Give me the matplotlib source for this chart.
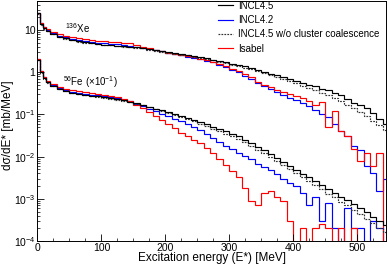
import matplotlib
matplotlib.use("Agg")
import math
import matplotlib.pyplot as plt
from matplotlib.lines import Line2D
from matplotlib.ticker import MultipleLocator, LogLocator, FuncFormatter, NullFormatter

plt.rcParams['font.family'] = ['Liberation Sans', 'DejaVu Sans']
plt.rcParams['mathtext.fontset'] = 'custom'
plt.rcParams['mathtext.rm'] = 'Liberation Sans'
plt.rcParams['mathtext.it'] = 'Liberation Sans:italic'
plt.rcParams['mathtext.bf'] = 'Liberation Sans:bold'

# bin edges [MeV]
edges = [0, 4, 8, 14, 20] + list(range(30, 551, 10))

xe_incl45 = [25, 14, 11, 9.5, 8.0, 7.0, 6.3, 5.8, 5.4, 5.1,
             4.9, 4.7, 4.5, 4.4, 4.25, 4.1, 4.0, 3.9, 3.7, 3.5,
             3.3, 3.1, 2.95, 2.8, 2.65, 2.55, 2.42, 2.3, 2.15, 2.0,
             1.85, 1.7, 1.6, 1.48, 1.37, 1.25, 1.15, 1.04, 0.93, 0.84,
             0.75, 0.68, 0.62, 0.56, 0.51, 0.46, 0.40, 0.37, 0.33, 0.29,
             0.23, 0.19, 0.17, 0.14, 0.11, 0.08, 0.06]
xe_incl45_nocl = [24, 13.5, 10.8, 9.3, 7.9, 6.9, 6.2, 5.7, 5.3, 5.0,
                  4.8, 4.6, 4.45, 4.3, 4.2, 4.05, 3.95, 3.85, 3.65, 3.45,
                  3.25, 3.05, 2.9, 2.75, 2.6, 2.5, 2.35, 2.22, 2.08, 1.93,
                  1.78, 1.63, 1.52, 1.4, 1.28, 1.17, 1.06, 0.96, 0.86, 0.77,
                  0.68, 0.61, 0.55, 0.48, 0.43, 0.38, 0.33, 0.29, 0.25, 0.21,
                  0.17, 0.145, 0.115, 0.09, 0.07, 0.055, 0.042]
xe_incl42 = [26, 14.5, 11.5, 10, 8.4, 7.4, 6.7, 6.2, 5.8, 5.5,
             5.25, 5.05, 4.85, 4.7, 4.55, 4.4, 4.2, 4.0, 3.75, 3.5,
             3.3, 3.1, 2.9, 2.7, 2.5, 2.35, 2.2, 2.05, 1.85, 1.7,
             1.5, 1.35, 1.15, 1.0, 0.82, 0.68, 0.55, 0.47, 0.40, 0.34,
             0.29, 0.25, 0.22, 0.19, 0.155, 0.125, 0.10, 0.085, 0.06, 0.04,
             0.03, 0.018, 0.014, 0.006, 0.004, 0.0015, 0.003]
xe_isabel = [25, 15, 12, 10.5, 9, 8, 7.3, 6.8, 6.4, 6.1,
             5.8, 5.6, 5.45, 5.3, 5.15, 5.0, 4.8, 4.4, 4.0, 3.7,
             3.4, 3.15, 2.9, 2.7, 2.55, 2.4, 2.25, 2.1, 1.95, 1.75,
             1.6, 1.4, 1.2, 1.05, 0.9, 0.75, 0.6, 0.5, 0.45, 0.38,
             0.34, 0.3, 0.27, 0.24, 0.21, 0.17, 0.2, 0.05, 0.12, 0.04,
             0.03, 0.015, 0.008, 0.012, 0.006, 0.012, 0]

fe_incl45 = [2.0, 1.0, 0.72, 0.58, 0.47, 0.40, 0.355, 0.325, 0.305, 0.29,
             0.28, 0.27, 0.255, 0.24, 0.23, 0.215, 0.2, 0.185, 0.168, 0.152,
             0.138, 0.125, 0.112, 0.1, 0.09, 0.081, 0.073, 0.065, 0.058, 0.051,
             0.045, 0.04, 0.035, 0.03, 0.025, 0.021, 0.017, 0.014, 0.0115, 0.0093,
             0.0075, 0.006, 0.0048, 0.0039, 0.0032, 0.0026, 0.0021, 0.0017, 0.0014, 0.0011,
             0.00092, 0.00075, 0.0006, 0.00048, 0.00038, 0.0003, 0.00024]
fe_incl45_nocl = [1.95, 0.98, 0.7, 0.57, 0.46, 0.395, 0.35, 0.32, 0.3, 0.285,
                  0.275, 0.265, 0.25, 0.235, 0.225, 0.21, 0.195, 0.18, 0.163, 0.147,
                  0.133, 0.12, 0.107, 0.095, 0.085, 0.076, 0.068, 0.06, 0.053, 0.046,
                  0.04, 0.035, 0.03, 0.026, 0.022, 0.018, 0.0145, 0.012, 0.0097, 0.0078,
                  0.0063, 0.005, 0.004, 0.0032, 0.0026, 0.0021, 0.0017, 0.0013, 0.0011, 0.00085,
                  0.0007, 0.00055, 0.00043, 0.00034, 0.00026, 0.0002, 0.00016]
fe_incl42 = [2.05, 1.05, 0.75, 0.6, 0.49, 0.42, 0.375, 0.345, 0.325, 0.31,
             0.295, 0.285, 0.27, 0.255, 0.24, 0.225, 0.205, 0.18, 0.158, 0.138,
             0.12, 0.105, 0.092, 0.08, 0.069, 0.06, 0.051, 0.042, 0.035, 0.027,
             0.022, 0.018, 0.015, 0.0125, 0.0105, 0.0088, 0.0068, 0.0058, 0.0048, 0.0038,
             0.003, 0.0024, 0.002, 0.0014, 0.0007, 0.0011, 0.0003, 0.0008, 0.0002, 0,
             0.0006, 0.0002, 0.0002, 0, 0.0003, 0.0002, 0]
fe_isabel = [2.05, 1.05, 0.77, 0.62, 0.52, 0.45, 0.41, 0.38, 0.36, 0.34,
             0.325, 0.31, 0.295, 0.275, 0.255, 0.235, 0.21, 0.17, 0.14, 0.115,
             0.092, 0.075, 0.06, 0.048, 0.037, 0.03, 0.025, 0.021, 0.016, 0.012,
             0.009, 0.0065, 0.0045, 0.0032, 0.0018, 0.0009, 0.0007, 0.0014, 0.0015, 0.0011,
             0.0009, 0.0003, 0, 0.0002, 0, 0.0002, 0.00025, 0.0002, 0, 0.0002,
             0, 0.0002, 0, 0, 0, 0, 0]

labels = ["INCL4.5", "INCL4.2", "INCL4.5 w/o cluster coalescence", "Isabel"]

fig = plt.figure(figsize=(3.88, 2.66), dpi=100)
ax = fig.add_axes([0.0966, 0.094, 0.898, 0.904])

lw = 0.85
dash = (0, (1.5, 1.0))
for vals, col, ls in [(xe_incl42, '#0000ff', '-'), (fe_incl42, '#0000ff', '-'),
                      (xe_isabel, '#ff0000', '-'), (fe_isabel, '#ff0000', '-'),
                      (xe_incl45_nocl, '#333333', dash), (fe_incl45_nocl, '#333333', dash),
                      (xe_incl45, 'black', '-'), (fe_incl45, 'black', '-')]:
    ax.stairs(vals, edges, baseline=None, fill=False, color=col, lw=lw, linestyle=ls)

ax.set_yscale('log')
ax.set_xlim(0, 545)
ax.set_ylim(1e-4, 50)

ax.xaxis.set_major_locator(MultipleLocator(100))
ax.xaxis.set_minor_locator(MultipleLocator(25))
ax.yaxis.set_major_locator(LogLocator(base=10, numticks=10))
ax.yaxis.set_minor_locator(LogLocator(base=10, subs=range(2, 10), numticks=20))
ax.yaxis.set_minor_formatter(NullFormatter())

def yfmt(v, pos):
    e = int(round(math.log10(v)))
    if e == 0:
        return '1'
    if e == 1:
        return '10'
    return r'$\mathregular{10^{%d}}$' % e
ax.yaxis.set_major_formatter(FuncFormatter(yfmt))

ax.tick_params(which='both', direction='in', top=False, right=False, labelsize=7.5)
ax.tick_params(which='major', length=5, width=0.6, pad=1.5)
ax.tick_params(which='minor', length=2.5, width=0.5)
for s in ax.spines.values():
    s.set_linewidth(0.7)

ax.set_xlabel("Excitation energy (E*) [MeV]", fontsize=8.5)
ax.xaxis.set_label_coords(0.5, -0.047)
ax.set_ylabel("dσ/dE* [mb/MeV]", fontsize=8.5)
ax.yaxis.set_label_coords(-0.066, 0.48)

ax.text(0.079, 0.863, r'$\mathregular{^{136}}$Xe', transform=ax.transAxes, fontsize=7, ha='left', va='baseline')
ax.text(0.073, 0.643, r'$\mathregular{^{56}}$Fe (×10$\mathregular{^{-1}}$)', transform=ax.transAxes, fontsize=7, ha='left', va='baseline')

handles = [Line2D([], [], color='black', lw=lw),
           Line2D([], [], color='#0000ff', lw=lw),
           Line2D([], [], color='#333333', lw=lw, linestyle=dash),
           Line2D([], [], color='#ff0000', lw=lw)]
ax.legend(handles, labels, loc='upper left', bbox_to_anchor=(0.518, 1.0), frameon=False,
          fontsize=7, handlelength=1.55, handletextpad=0.5, labelspacing=0.45,
          borderpad=0.0, borderaxespad=0.0)

fig.savefig('out.png', dpi=100)
